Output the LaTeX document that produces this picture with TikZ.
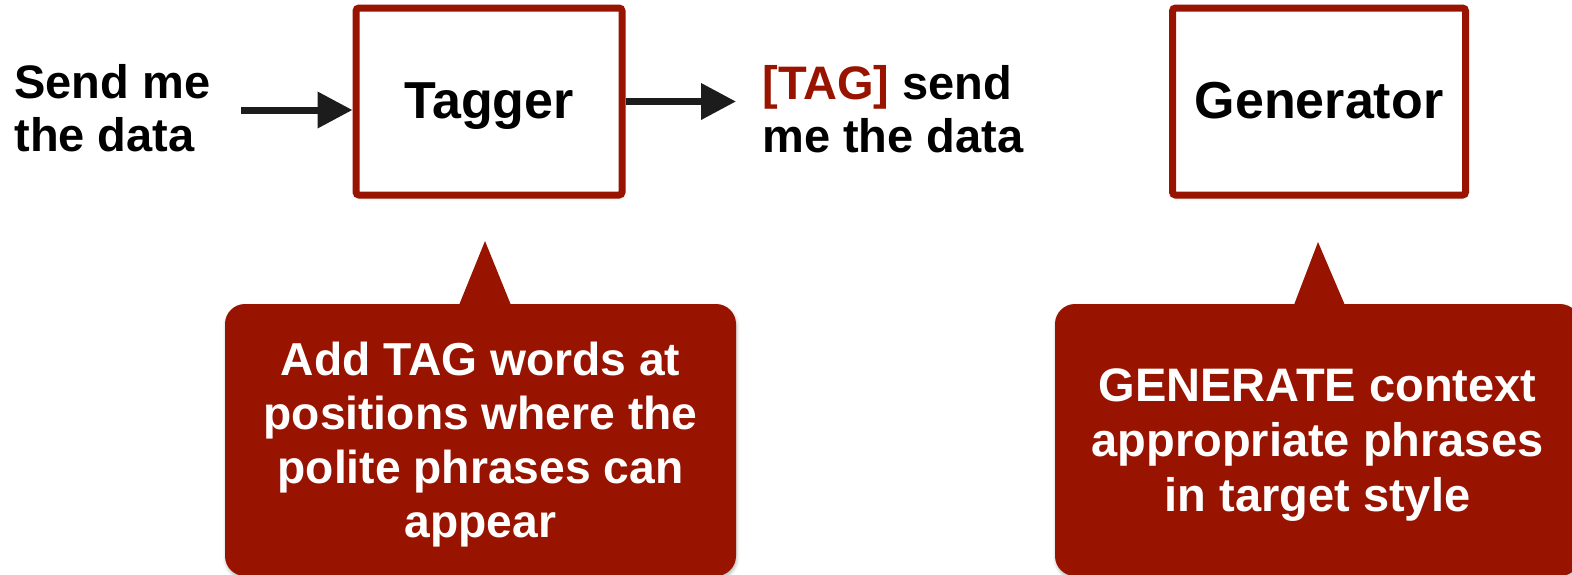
\documentclass[tikz,border=0pt]{standalone}
\usepackage{fontspec}
\setmainfont{Liberation Sans}
\usetikzlibrary{arrows.meta,shadows.blur}
\definecolor{brick}{RGB}{153,20,0}
\definecolor{ink}{RGB}{28,28,28}
\begin{document}
\begin{tikzpicture}[x=0.5pt,y=-0.5pt,
  softshadow/.style={blur shadow={shadow xshift=0.4pt, shadow yshift=-1.2pt,
      shadow blur radius=1.6pt, shadow opacity=28}},
  stage/.style={draw=brick, line width=3.5pt, fill=white, rounded corners=1.5pt,
      inner sep=0pt, minimum height=93.5pt, text depth=1pt, softshadow,
      font=\fontsize{26}{31}\selectfont\bfseries},
  sidetext/.style={inner sep=0pt, align=left,
      font=\fontsize{23.5}{26.5}\selectfont\bfseries},
  note/.style={fill=brick, text=white, rounded corners=10pt, inner sep=0pt,
      align=center, minimum height=136pt, text depth=0pt, softshadow},
  pointer/.style={fill=brick},
  arr/.style={draw=ink, line width=3.5pt,
      -{Triangle[length=17.5pt,width=17.5pt]}}]

\path[use as bounding box] (0,0) rectangle (1572,574);
\clip (0,0) rectangle (1572,574);

% processing stages
\node[stage, minimum width=133pt]   (tagger) at (489,101.5)  {Tagger};
\node[stage, minimum width=146.5pt] (gen)    at (1319,101.5) {Generator};

% input and tagged output
\node[sidetext, anchor=west] (src) at (14,108) {Send me\\the data};
\node[sidetext, anchor=west] (tagged) at (762,109.5)
  {\textcolor{brick}{[TAG]} send\\me the data};

\coordinate (feed) at (241,110);
\coordinate (emit) at (736,101.5);
\draw[arr] (feed) -- (feed -| tagger.west);
\draw[arr] (tagger.east) -- (emit);

% explanatory callouts
\node[note, minimum width=255.5pt, font=\fontsize{23.1}{27}\selectfont\bfseries]
  (tagnote) at (480.5,440)
  {Add TAG words at\\positions where the\\polite phrases can\\appear};
\fill[pointer] (485,241) -- (457,310) -- (513,310) -- cycle;

\node[note, minimum width=262.5pt, font=\fontsize{23.5}{27.5}\selectfont\bfseries]
  (gennote) at (1317.5,440)
  {GENERATE context\\appropriate phrases\\in target style};
\fill[pointer] (1318,242) -- (1292,310) -- (1347,310) -- cycle;

\end{tikzpicture}
\end{document}
